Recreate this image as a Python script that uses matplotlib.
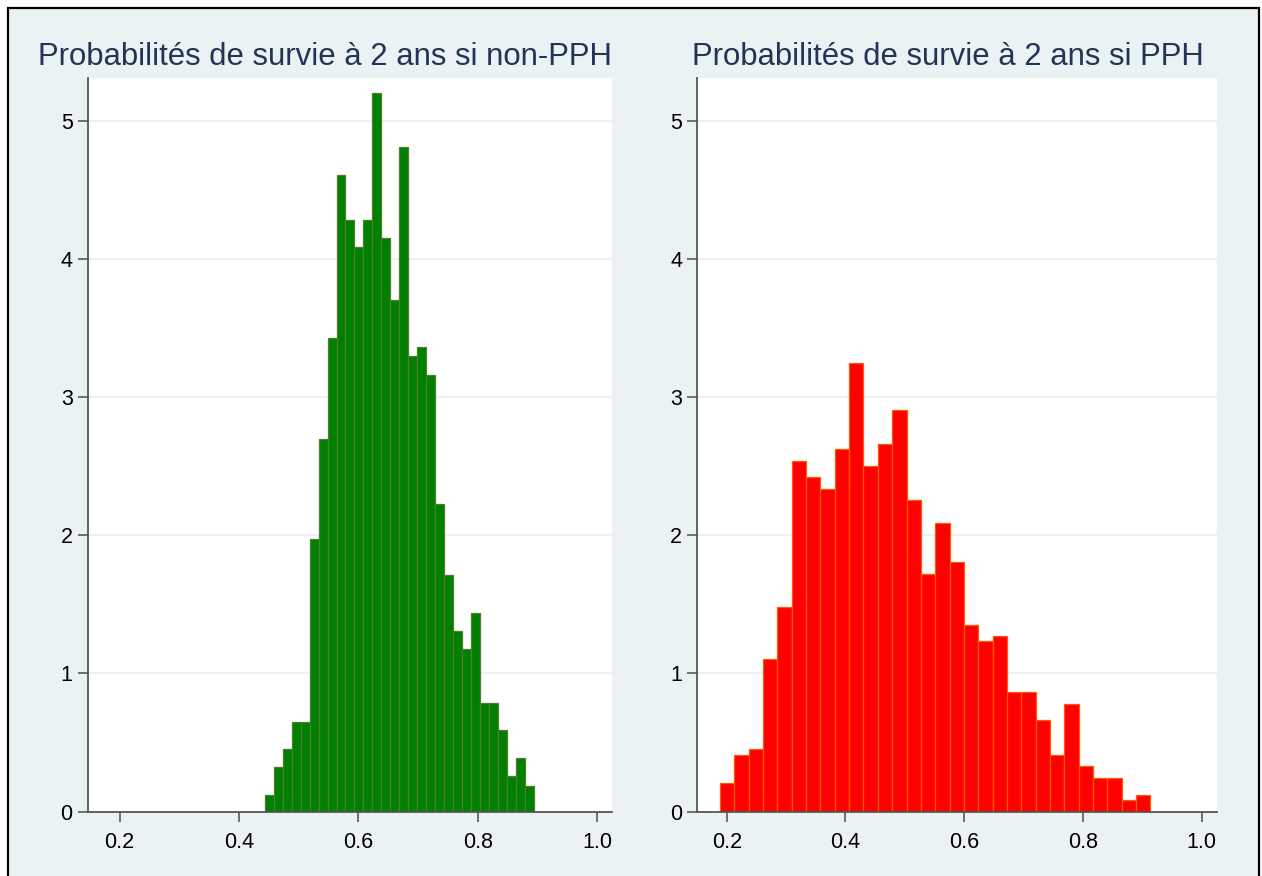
import numpy as np
import matplotlib
matplotlib.use("Agg")
import matplotlib.pyplot as plt
from matplotlib.patches import Rectangle

# ---- data ----
titles = ["Probabilités de survie à 2 ans si non-PPH",
          "Probabilités de survie à 2 ans si PPH"]

nonpph_min, nonpph_max = 0.443, 0.895
nonpph_density = [0.12, 0.32, 0.45, 0.65, 0.65, 1.97, 2.70, 3.43, 4.61, 4.28,
                  4.09, 4.28, 5.20, 4.15, 3.70, 4.81, 3.30, 3.36, 3.16, 2.23,
                  1.71, 1.31, 1.18, 1.44, 0.785, 0.785, 0.587, 0.256, 0.39, 0.186]

pph_min, pph_max = 0.1887, 0.9137
pph_density = [0.206, 0.41, 0.452, 1.107, 1.478, 2.54, 2.42, 2.336, 2.626, 3.244,
               2.50, 2.664, 2.91, 2.254, 1.722, 2.09, 1.804, 1.353, 1.232, 1.273,
               0.862, 0.862, 0.659, 0.41, 0.778, 0.326, 0.246, 0.246, 0.08, 0.121]

x_ticks = [0.2, 0.4, 0.6, 0.8, 1.0]
x_ticklabels = ["0.2", "0.4", "0.6", "0.8", "1.0"]
y_ticks = [0, 1, 2, 3, 4, 5]
y_ticklabels = ["0", "1", "2", "3", "4", "5"]

# ---- style ----
W, H = 1262, 876
plt.rcParams['font.family'] = ['Liberation Sans', 'DejaVu Sans']
bg = '#EAF2F3'
axis_col = '#555555'
title_col = '#243457'

fig = plt.figure(figsize=(W / 100, H / 100), dpi=100)
fig.patch.set_facecolor('white')

# graph region background with black frame
frame = Rectangle((8 / W, -0.02), (1259 - 8) / W, (876 - 8) / H + 0.02,
                  transform=fig.transFigure, facecolor=bg,
                  edgecolor='black', linewidth=1.6, zorder=-10)
fig.add_artist(frame)

def px_axes(x0, x1, ytop, ybot):
    return fig.add_axes([x0 / W, (H - ybot) / H, (x1 - x0) / W, (ybot - ytop) / H])

panels = [
    dict(x0=88, x1=612, xlim=(0.1472, 1.0251), lo=nonpph_min, hi=nonpph_max,
         dens=nonpph_density, fc='#008000', ec='#4F7D2A', title=titles[0], tx=325),
    dict(x0=697.3, x1=1217.3, xlim=(0.1505, 1.0263), lo=pph_min, hi=pph_max,
         dens=pph_density, fc='#FF0000', ec='#FF5A00', title=titles[1], tx=948),
]

for p in panels:
    ax = px_axes(p['x0'], p['x1'], 78, 811.5)
    ax.set_zorder(1)
    ax.set_facecolor('white')
    n = len(p['dens'])
    edges = np.linspace(p['lo'], p['hi'], n + 1)
    widths = np.diff(edges)
    for yv in y_ticks[1:]:
        ax.axhline(yv, color=bg, linewidth=1.5, zorder=1)
    ax.bar(edges[:-1], p['dens'], width=widths, align='edge', color=p['fc'],
           edgecolor=p['ec'], linewidth=0.9, zorder=2)
    ax.set_xlim(*p['xlim'])
    ax.set_ylim(0, 5.311)
    ax.set_xticks(x_ticks)
    ax.set_xticklabels(x_ticklabels)
    ax.set_yticks(y_ticks)
    ax.set_yticklabels(y_ticklabels)
    for s in ['top', 'right']:
        ax.spines[s].set_visible(False)
    for s in ['left', 'bottom']:
        ax.spines[s].set_color(axis_col)
        ax.spines[s].set_linewidth(1.3)
        ax.spines[s].set_zorder(3)
    ax.tick_params(axis='both', colors='#666666', labelcolor='black',
                   labelsize=15.5, width=1.3, length=7)
    ax.tick_params(axis='y', pad=4)
    ax.tick_params(axis='x', pad=8)
    fig.text(p['tx'] / W, (H - 65) / H, p['title'], ha='center', va='baseline',
             fontsize=22.4, color=title_col, zorder=2)

fig.savefig('out.png', dpi=100, facecolor=fig.get_facecolor())
